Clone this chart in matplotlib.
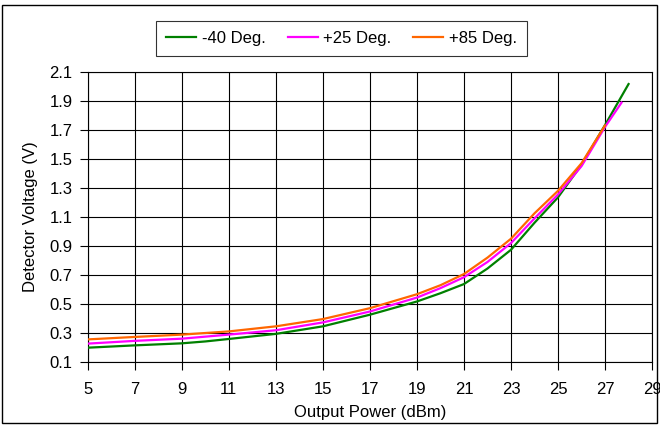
import matplotlib
matplotlib.use("Agg")
import matplotlib.pyplot as plt
from matplotlib.patches import Rectangle

plt.rcParams['font.family'] = ['Liberation Sans', 'DejaVu Sans']

# Detector voltage vs output power at three temperatures
x_m40 = [5, 7, 9, 10, 11, 13, 15, 17, 19, 20, 21, 22, 23, 24, 25, 26, 27, 28]
v_m40 = [0.200, 0.216, 0.230, 0.243, 0.260, 0.295, 0.347, 0.427, 0.518, 0.575,
         0.638, 0.745, 0.874, 1.060, 1.235, 1.460, 1.733, 2.015]

x_p25 = [5, 7, 9, 11, 13, 15, 17, 19, 20, 21, 22, 23, 24, 25, 26, 27, 27.7]
v_p25 = [0.228, 0.247, 0.262, 0.290, 0.320, 0.374, 0.449, 0.545, 0.610,
         0.685, 0.790, 0.920, 1.090, 1.255, 1.450, 1.720, 1.887]

x_p85 = [5, 7, 9, 11, 13, 15, 17, 19, 20, 21, 22, 23, 24, 25, 26, 27]
v_p85 = [0.257, 0.274, 0.290, 0.312, 0.347, 0.397, 0.472, 0.568, 0.630,
         0.707, 0.820, 0.950, 1.125, 1.280, 1.470, 1.730]

series_labels = ['-40 Deg.', '+25 Deg.', '+85 Deg.']
series_colors = ['#008000', '#FF00FF', '#FF6600']

x_ticks = list(range(5, 30, 2))
y_ticks = [0.1, 0.3, 0.5, 0.7, 0.9, 1.1, 1.3, 1.5, 1.7, 1.9, 2.1]

FS = 12

fig = plt.figure(figsize=(6.6, 4.28), dpi=100)
ax = fig.add_axes([0.1329, 0.1537, 0.988 - 0.1329, 0.8325 - 0.1537])

for xs, ys, lab, col in zip([x_m40, x_p25, x_p85], [v_m40, v_p25, v_p85],
                            series_labels, series_colors):
    ax.plot(xs, ys, color=col, lw=1.6, label=lab, zorder=3)

ax.set_xlim(5, 29)
ax.set_ylim(0.1, 2.1)
ax.set_xticks(x_ticks)
ax.set_yticks(y_ticks)
ax.set_yticklabels([f"{v:.1f}" for v in y_ticks])
ax.grid(True, color='black', lw=0.8, zorder=1)
for s in ax.spines.values():
    s.set_color('black')
    s.set_linewidth(0.8)
ax.tick_params(direction='out', length=6, width=0.8, labelsize=FS,
               colors='black')
ax.tick_params(axis='x', pad=8)
ax.tick_params(axis='y', pad=5)
ax.set_xlabel('Output Power (dBm)', fontsize=FS, labelpad=6)
ax.set_ylabel('Detector Voltage (V)', fontsize=FS, labelpad=8)

leg = fig.legend(loc='center', bbox_to_anchor=(0.5177, 0.9105), ncol=3,
                 fontsize=FS, frameon=True, fancybox=False, edgecolor='black',
                 handlelength=1.8, columnspacing=1.3, borderpad=0.6,
                 handletextpad=0.35, borderaxespad=0)
leg.get_frame().set_linewidth(0.8)

# Outer chart frame
fig.patches.append(Rectangle((2 / 660, 1 - 423 / 428), 655 / 660, 418 / 428,
                             transform=fig.transFigure, fill=False,
                             edgecolor='black', lw=1.0))

fig.savefig('out.png', dpi=100)
